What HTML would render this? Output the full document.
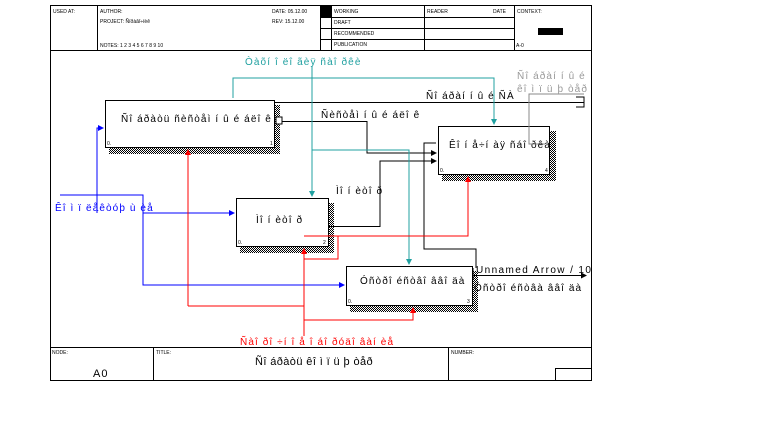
<!DOCTYPE html>
<html><head><meta charset="utf-8"><style>
body{margin:0;background:#fff}
svg{display:block}
text{font-family:"Liberation Sans",sans-serif}
.s{font-size:5px}
.l{font-size:10px;letter-spacing:1.1px}
</style></head><body>
<svg width="780" height="422" viewBox="0 0 780 422" xmlns="http://www.w3.org/2000/svg">
<defs>
<pattern id="hatch" width="2" height="2" patternUnits="userSpaceOnUse"><rect width="1" height="1" fill="#000"/><rect x="1" y="1" width="1" height="1" fill="#000"/></pattern>
<marker id="ak" markerWidth="6" markerHeight="6" refX="5" refY="3" orient="auto"><path d="M0,0 L6,3 L0,6z" fill="#000"/></marker>
<marker id="ab" markerWidth="6" markerHeight="6" refX="5" refY="3" orient="auto"><path d="M0,0 L6,3 L0,6z" fill="#00f"/></marker>
<marker id="ar" markerWidth="6" markerHeight="6" refX="5" refY="3" orient="auto"><path d="M0,0 L6,3 L0,6z" fill="#f00"/></marker>
<marker id="at" markerWidth="6" markerHeight="6" refX="5" refY="3" orient="auto"><path d="M0,0 L6,3 L0,6z" fill="#20a0a0"/></marker>
</defs>
<rect x="50.5" y="5.5" width="541" height="375" fill="none" stroke="#000"/>
<line x1="50" y1="50.5" x2="592" y2="50.5" stroke="#000"/>
<g stroke="#000" stroke-width="1">
<line x1="97.5" y1="5" x2="97.5" y2="50"/>
<line x1="320.5" y1="5" x2="320.5" y2="50"/>
<line x1="331.5" y1="5" x2="331.5" y2="50"/>
<line x1="424.5" y1="5" x2="424.5" y2="50"/>
<line x1="514.5" y1="5" x2="514.5" y2="50"/>
<line x1="320" y1="17.5" x2="514" y2="17.5"/>
<line x1="320" y1="28.5" x2="514" y2="28.5"/>
<line x1="320" y1="39.5" x2="514" y2="39.5"/>
</g>
<rect x="321" y="6" width="10" height="11" fill="#000"/>
<rect x="538" y="28" width="25" height="7" fill="#000"/>
<g class="s" fill="#000">
<text x="53" y="13">USED AT:</text>
<text x="100" y="13">AUTHOR:</text>
<text x="100" y="23">PROJECT:  Ñïðàâî÷íèê</text>
<text x="100" y="47">NOTES:  1  2  3  4  5  6  7  8  9  10</text>
<text x="272" y="13">DATE:  05.12.00</text>
<text x="272" y="23">REV:   15.12.00</text>
<text x="334" y="13">WORKING</text>
<text x="334" y="24">DRAFT</text>
<text x="334" y="35">RECOMMENDED</text>
<text x="334" y="46">PUBLICATION</text>
<text x="427" y="13">READER</text>
<text x="493" y="13">DATE</text>
<text x="517" y="13">CONTEXT:</text>
<text x="516" y="47">A-0</text>
</g>
<g stroke="#000">
<line x1="50" y1="347.5" x2="592" y2="347.5"/>
<line x1="153.5" y1="347" x2="153.5" y2="381"/>
<line x1="448.5" y1="347" x2="448.5" y2="381"/>
<rect x="555.5" y="368.5" width="36" height="12" fill="none"/>
</g>
<g class="s"><text x="52" y="354">NODE:</text><text x="156" y="354">TITLE:</text><text x="451" y="354">NUMBER:</text></g>
<text x="93" y="377" font-size="11" letter-spacing="1">A0</text>
<text x="255" y="365" font-size="11" letter-spacing="0.4">Ñî áðàòü êî ì ï ü þ òåð</text>

<rect x="109" y="148" width="170" height="6" fill="url(#hatch)"/><rect x="274" y="105" width="6" height="49" fill="url(#hatch)"/>
<rect x="105.5" y="100.5" width="169" height="47" fill="#fff" stroke="#000"/>
<rect x="240" y="247" width="94" height="6" fill="url(#hatch)"/><rect x="328" y="203" width="6" height="50" fill="url(#hatch)"/>
<rect x="236.5" y="198.5" width="92" height="48" fill="#fff" stroke="#000"/>
<rect x="350" y="306" width="128" height="6" fill="url(#hatch)"/><rect x="472" y="271" width="6" height="41" fill="url(#hatch)"/>
<rect x="346.5" y="266.5" width="126" height="39" fill="#fff" stroke="#000"/>
<rect x="442" y="175" width="114" height="6" fill="url(#hatch)"/><rect x="550" y="131" width="6" height="50" fill="url(#hatch)"/>
<rect x="438.5" y="126.5" width="111" height="48" fill="#fff" stroke="#000"/>
<g class="s"><text x="107" y="145">0.</text><text x="270" y="145">1</text><text x="238" y="244">0.</text><text x="323" y="244">2</text><text x="348" y="303">0.</text><text x="467" y="303">3</text><text x="440" y="172">0.</text><text x="545" y="172">4</text></g>
<g class="l" fill="#000">
<text x="121" y="122">Ñî áðàòü ñèñòåì í û é áëî ê</text>
<text x="256" y="223">Ìî í èòî ð</text>
<text x="360" y="284">Óñòðî éñòâî  ââî äà</text>
<text x="449" y="148">Êî í å÷í àÿ ñáî ðêà</text>
</g>

<g fill="none" stroke="#000">
<path d="M274 102.5 H584"/>
<path d="M274 121.5 H367 V153 H436" marker-end="url(#ak)"/>
<path d="M328 226.5 H380 V161 H436" marker-end="url(#ak)"/>
<path d="M436 143 H424 V249 H476 V268"/>
<path d="M472 275.5 H586" marker-end="url(#ak)"/>
</g>
<rect x="276" y="117" width="6" height="7" fill="#fff" stroke="#000"/>
<path d="M576 97 h8 v10 h-8" fill="none" stroke="#000"/>
<path d="M473 268 v12" stroke="#000"/>
<g class="l" fill="#000">
<text x="426" y="99">Ñî áðàí í û é ÑÀ</text>
<text x="321" y="118">Ñèñòåì í û é áëî ê</text>
<text x="336" y="194">Ìî í èòî ð</text>
<text x="476" y="273" letter-spacing="1.4">Unnamed Arrow / 10</text>
<text x="474" y="291">Óñòðî éñòâà ââî äà</text>
</g>
<path d="M584 94 H529 V144 H545" fill="none" stroke="#888"/>
<g class="l" fill="#999"><text x="517" y="79">Ñî áðàí í û é</text><text x="517" y="92">êî ì ï ü þ òåð</text></g>
<g fill="none" stroke="#20a0a0">
<path d="M312 66 V196" marker-end="url(#at)"/>
<path d="M233 98 V78 H494 V124" marker-end="url(#at)"/>
<path d="M312 150 H409 V264" marker-end="url(#at)"/>
</g>
<text class="l" x="245" y="65" fill="#20a0a0">Òàõí î ëî ãèÿ ñàî ðêè</text>
<g fill="none" stroke="#00f">
<path d="M60 195 H143 V213 H234" marker-end="url(#ab)"/>
<path d="M97 213 V128 H103" marker-end="url(#ab)"/>
<path d="M143 213 V285 H344" marker-end="url(#ab)"/>
</g>
<text class="l" x="55" y="211" fill="#00f">Êî ì ï ëåêòóþ ù èå</text>
<g fill="none" stroke="#f00">
<path d="M188 306 V150" marker-end="url(#ar)"/>
<path d="M188 306 H304"/>
<path d="M304 336 V249" marker-end="url(#ar)"/>
<path d="M304 236 H468 V177" marker-end="url(#ar)"/>
<path d="M304 236 H338 V259 H304"/>
<path d="M304 320 H413 V308" marker-end="url(#ar)"/>
</g>
<text class="l" x="240" y="345" fill="#f00">Ñàî ðî ÷í î å î áî ðóäî âàí èå</text>
</svg>
</body></html>
